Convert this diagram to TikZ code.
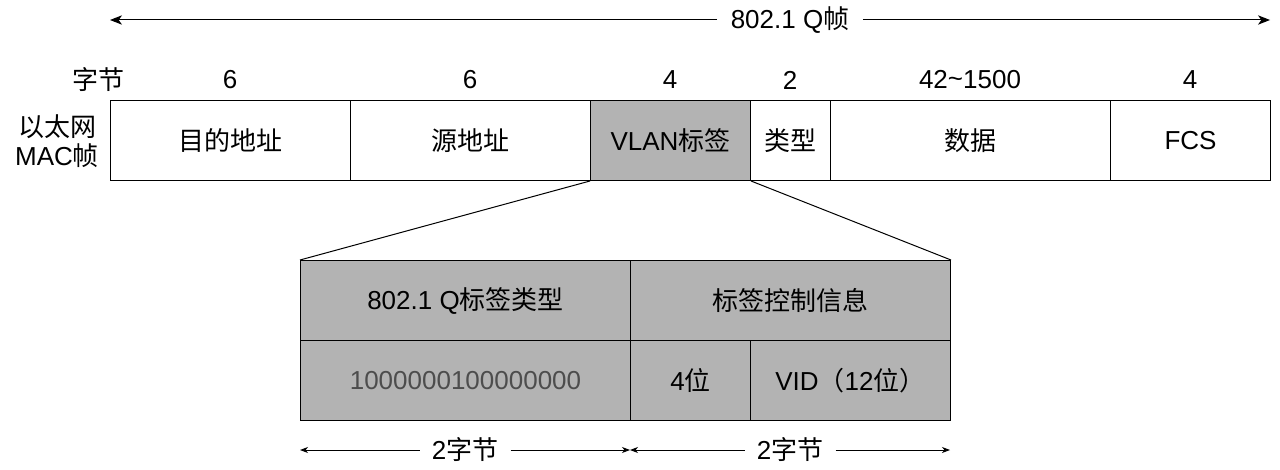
\documentclass[tikz,border=0pt]{standalone}
\usepackage{fontspec}
\setmainfont{Liberation Sans}
\newfontfamily\cjk{Noto Sans CJK SC}
\usetikzlibrary{arrows.meta}
\definecolor{cellgray}{HTML}{B3B3B3}
\definecolor{bitgray}{HTML}{4D4D4D}
\tikzset{
  cell/.style={draw=black, line width=0.75pt, minimum height=60pt, inner sep=0pt, anchor=north west, font=\fontsize{19.5}{22}\selectfont},
  txt/.style={inner sep=0pt, font=\fontsize{19.5}{22}\selectfont},
  conn/.style={line width=0.75pt},
  bigarrow/.style={line width=0.75pt, -{Stealth[length=9pt,width=7pt,inset=2.5pt]}},
  smallarrow/.style={line width=0.75pt, -{Stealth[length=6pt,width=4.5pt,inset=1.8pt]}},
}
\begin{document}
\begin{tikzpicture}[x=0.75pt,y=-0.75pt]
\useasboundingbox (0,0) rectangle (1280,470);
% top frame arrow
\coordinate (tl) at (110,20);
\coordinate (tr) at (1270,20);
\node[txt] (qframe) at (790,20) {802.1 Q{\cjk 帧}};
\draw[bigarrow] (qframe.west) ++(-10pt,0) -- (tl);
\draw[bigarrow] (qframe.east) ++(10pt,0) -- (tr);
% byte labels
\node[txt] (bytes) at (98,80) {\cjk 字节};
\node[txt] (b1) at (230,80) {6};
\node[txt] (b2) at (470,80) {6};
\node[txt] (b3) at (670,80) {4};
\node[txt] (b4) at (790,80) {2};
\node[txt] (b5) at (970,80) {42\raisebox{0.05em}{\textasciitilde}1500};
\node[txt] (b6) at (1190,80) {4};
\node[txt, align=center] (mac) at (57,141) {{\cjk 以太网}\\MAC{\cjk 帧}};
% MAC frame cells
\node[cell, minimum width=180pt] (dst) at (110,100) {\cjk 目的地址};
\node[cell, minimum width=180pt] (src) at (350,100) {\cjk 源地址};
\node[cell, minimum width=120pt, fill=cellgray] (vlan) at (590,100) {VLAN{\cjk 标签}};
\node[cell, minimum width=60pt] (type) at (750,100) {\cjk 类型};
\node[cell, minimum width=210pt] (data) at (830,100) {\cjk 数据};
\node[cell, minimum width=120pt] (fcs) at (1110,100) {FCS};
% expanded tag
\node[cell, minimum width=247.5pt, fill=cellgray] (tpid) at (300,260) {802.1 Q{\cjk 标签类型}};
\node[cell, minimum width=240pt, fill=cellgray] (tci) at (630,260) {\cjk 标签控制信息};
\node[cell, minimum width=247.5pt, fill=cellgray, text=bitgray] (bits) at (300,340) {1000000100000000};
\node[cell, minimum width=90pt, fill=cellgray] (pri) at (630,340) {4{\cjk 位}};
\node[cell, minimum width=150pt, fill=cellgray] (vid) at (750,340) {VID{\cjk （}12{\cjk 位）}};
% zoom lines
\draw[conn] (vlan.south west) -- (tpid.north west);
\draw[conn] (vlan.south east) -- (tci.north east);
% bottom byte arrows
\coordinate (bl) at (300,450);
\coordinate (bm) at (630,450);
\coordinate (br) at (950,450);
\node[txt] (lab1) at (465,450) {2{\cjk 字节}};
\node[txt] (lab2) at (790,450) {2{\cjk 字节}};
\draw[smallarrow] (lab1.west) ++(-9pt,0) -- (bl);
\draw[smallarrow] (lab1.east) ++(9pt,0) -- (bm);
\draw[smallarrow] (lab2.west) ++(-9pt,0) -- (bm);
\draw[smallarrow] (lab2.east) ++(9pt,0) -- (br);
\end{tikzpicture}
\end{document}
